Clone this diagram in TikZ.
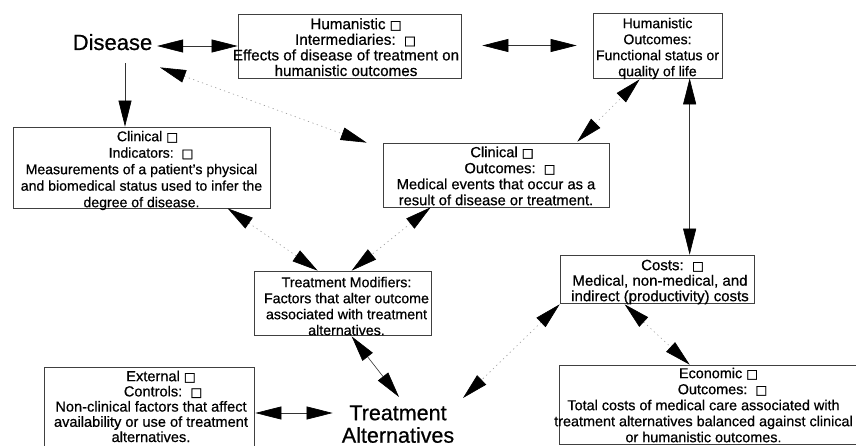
\documentclass[tikz,border=0pt]{standalone}
\usepackage{fontspec}
\setmainfont{Liberation Sans}[FakeBold=0.6]
\newfontfamily\dejavu{DejaVu Sans}[FakeBold=1.2]
\usetikzlibrary{arrows.meta,calc}
\newcommand\sqbox{{\dejavu\fontsize{12.5}{12.5}\selectfont □}}
\newcommand\fst[2]{\fontsize{#1}{#2}\selectfont}
\begin{document}
\begin{tikzpicture}[x=1pt,y=-1pt,
  box/.style={draw=black!75, line width=0.7pt, inner sep=0pt},
  txt/.style={align=center, inner sep=0pt, anchor=north, text=black},
  sline/.style={draw=black!80, line width=0.6pt},
  dline/.style={draw=black!40, line width=0.6pt, dash pattern=on 1.2pt off 3.5pt},
  dblarr/.style={{Triangle[length=26pt,width=13pt,color=black]}-{Triangle[length=26pt,width=13pt,color=black]}},
  sglarr/.style={-{Triangle[length=26pt,width=13pt,color=black]}},
]
\useasboundingbox (0,0) rectangle (856,446);
\fill[white] (0,0) rectangle (856,446);
\clip (0,0) rectangle (856,446);

% boxes
\node[box, minimum width=223pt, minimum height=64pt] (hi) at (349.5,46) {};
\node[box, minimum width=129pt, minimum height=65pt] (ho) at (657.5,45.5) {};
\node[box, minimum width=257pt, minimum height=81pt] (ci) at (141.5,167.5) {};
\node[box, minimum width=226pt, minimum height=64pt] (co) at (496,175) {};
\node[box, minimum width=177pt, minimum height=64pt] (tm) at (342.5,303) {};
\node[box, minimum width=194pt, minimum height=48pt] (costs) at (657,279) {};
\node[box, minimum width=311pt, minimum height=79pt] (eo) at (714.5,404.5) {};
\node[box, minimum width=210pt, minimum height=92pt] (ec) at (149,413) {};

% texts
\node[inner sep=0pt, anchor=base, font=\fst{22}{26}] (dis) at (112.5,50) {Disease};
\node[txt, font=\fst{21.5}{22.5}] (ta) at (398,398) {\rule{0pt}{22pt}Treatment\\Alternatives};

\node[txt, font=\fst{15.2}{15.6}] (hit) at (346,14) {\rule{0pt}{15pt}\hspace*{20pt}Humanistic \sqbox\\\hspace*{19pt}Intermediaries:\ \ \sqbox\\Effects of disease of treatment on\\humanistic outcomes};
\node[txt, font=\fst{14.1}{16}] (hot) at (657.5,13) {\rule{0pt}{15pt}Humanistic\\Outcomes:\\Functional status or\\quality of life};
\node[txt, font=\fst{14.1}{16.5}] (cit) at (141.5,126) {\rule{0pt}{15pt}\hspace*{12pt}Clinical \sqbox\\\hspace*{19pt}Indicators:\ \ \sqbox\\Measurements of a patient's physical\\and biomedical status used to infer the\\degree of disease.};
\node[txt, font=\fst{14.7}{16}] (cot) at (496,142) {\rule{0pt}{15pt}\hspace*{12pt}Clinical \sqbox\\\hspace*{28pt}Outcomes:\ \ \sqbox\\Medical events that occur as a\\result of disease or treatment.};
\node[txt, font=\fst{14.2}{16}] (tmt) at (346.5,272) {\rule{0pt}{15pt}Treatment Modifiers:\\Factors that alter outcome\\associated with treatment\\alternatives.};
\node[txt, font=\fst{15}{15.5}] (costst) at (660,255) {\rule{0pt}{15pt}\hspace*{25pt}Costs:\ \ \sqbox\\Medical, non-medical, and\\indirect (productivity) costs};
\node[txt, font=\fst{14.4}{16}] (eot) at (703.5,363) {\rule{0pt}{15pt}\hspace*{30pt}Economic \sqbox\\\hspace*{38pt}Outcomes:\ \ \sqbox\\Total costs of medical care associated with\\treatment alternatives balanced against clinical\\or humanistic outcomes.};
\node[txt, font=\fst{14.6}{15.2}] (ect) at (151,366) {\rule{0pt}{15pt}\hspace*{20pt}External \sqbox\\\hspace*{24pt}Controls:\ \ \sqbox\\Non-clinical factors that affect\\availability or use of treatment\\alternatives.};

% connectors
\draw[sline,dblarr] ($(hi.west -| dis.east)+(4.7,0)$) -- (hi.west);
\draw[sline,dblarr] ($(ho.west -| hi.east)+(21,0)$) -- ($(ho.west)+(-16,0)$);
\draw[sline,sglarr] ($(dis.south)+(12.5,13)$) -- ($(ci.north)+(-16.5,0)$);
\draw[dline,dblarr] ($(dis.south)+(47.5,17)$) -- ($(co.north west)+(-16,0)$);
\draw[dline,dblarr] ($(co.north east)+(-32,-1)$) -- ($(ho.south west)+(47,1)$);
\draw[sline,dblarr] ($(ho.south west)+(97,0)$) -- ($(costs.north west)+(130,0)$);
\draw[dline,dblarr] ($(ci.south west)+(215,0)$) -- ($(tm.north west)+(64,0)$);
\draw[dline,dblarr] ($(co.south west)+(48,0)$) -- ($(tm.north west)+(98,0)$);
\draw[sline,dblarr] ($(tm.south west)+(98,1)$) -- ($(ta.north)+(1,-1)$);
\draw[sline,dblarr] ($(ec.east)+(1,0)$) -- ($(ec.east -| ta.west)+(-9,0)$);
\draw[dline,dblarr] ($(costs.south west)+(0,1)$) -- ($(ta.north)+(65,0)$);
\draw[dline,dblarr] ($(costs.south west)+(65,1)$) -- ($(eo.north west)+(131,0)$);
\end{tikzpicture}
\end{document}
